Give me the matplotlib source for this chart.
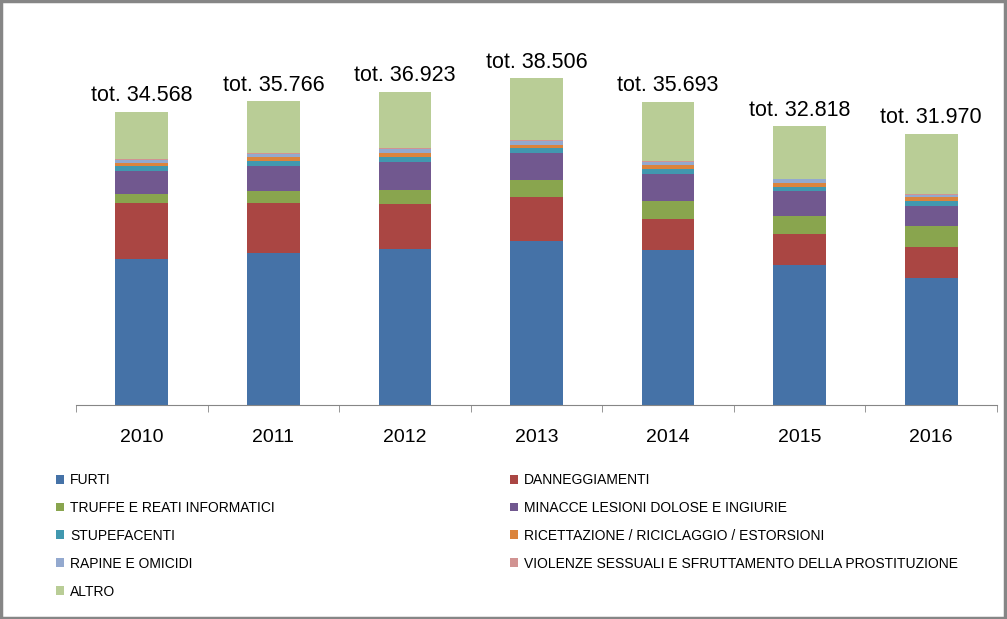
import matplotlib.pyplot as plt
from matplotlib.patches import Patch, Rectangle
import numpy as np

years = ["2010", "2011", "2012", "2013", "2014", "2015", "2016"]
totals = [34568, 35766, 36923, 38506, 35693, 32818, 31970]

categories = [
    "FURTI",
    "DANNEGGIAMENTI",
    "TRUFFE E REATI INFORMATICI",
    "MINACCE LESIONI DOLOSE E INGIURIE",
    "STUPEFACENTI",
    "RICETTAZIONE / RICICLAGGIO / ESTORSIONI",
    "RAPINE E OMICIDI",
    "VIOLENZE SESSUALI E SFRUTTAMENTO DELLA PROSTITUZIONE",
    "ALTRO",
]

furti = [17160, 17940, 18380, 19320, 18260, 16490, 15000]
danneggiamenti = [6600, 5890, 5300, 5220, 3650, 3650, 3650]
truffe = [1100, 1380, 1650, 1970, 2120, 2120, 2440]
minacce = [2710, 2945, 3335, 3215, 3180, 2980, 2360]
stupefacenti = [590, 625, 590, 520, 550, 470, 625]
ricettazione = [390, 470, 400, 425, 510, 470, 470]
rapine = [320, 355, 470, 400, 390, 400, 200]
violenze = [80, 120, 120, 150, 80, 80, 60]
altro = [5610, 6040, 6680, 7270, 6950, 6160, 7165]

series = [furti, danneggiamenti, truffe, minacce, stupefacenti,
          ricettazione, rapine, violenze, altro]

colors = ["#4572A7", "#AA4643", "#89A54E", "#71588F", "#4198AF",
          "#DB843D", "#93A9CF", "#D19392", "#B9CD96"]

plt.rcParams['font.family'] = ['Liberation Sans', 'DejaVu Sans']

fig = plt.figure(figsize=(10.07, 6.19), dpi=100)
ax = fig.add_axes([76 / 1007, (619 - 405) / 619, (997 - 76) / 1007, 382 / 619])

x = np.arange(len(years))
bottom = np.zeros(len(years))
for vals, col, name in zip(series, colors, categories):
    ax.bar(x, vals, 0.40, bottom=bottom, color=col, label=name, linewidth=0)
    bottom += np.array(vals)

for xi, t in zip(x, totals):
    s = "tot. " + "{:,}".format(t).replace(",", ".")
    ax.annotate(s, (xi, bottom[xi]), xytext=(0, 4), textcoords="offset points",
                ha="center", va="bottom", fontsize=15.5)

ax.set_xlim(-0.5, len(years) - 0.5)
ax.set_ylim(0, 45000)
ax.set_yticks([])
for side in ["top", "right", "left"]:
    ax.spines[side].set_visible(False)
ax.spines["bottom"].set_color("#868686")
ax.set_xticks(x)
ax.set_xticklabels(years, fontsize=14)
ax.set_xticks(np.arange(-0.5, len(years)), minor=True)
ax.tick_params(axis="x", which="major", length=0, pad=17)
ax.tick_params(axis="x", which="minor", length=5, color="#868686")

handles = [Patch(facecolor=c, edgecolor="none") for c in colors]
left_idx = [0, 2, 4, 6, 8]
right_idx = [1, 3, 5, 7]
common = dict(frameon=False, fontsize=10, handlelength=0.6, handleheight=0.6,
              handletextpad=0.4, labelspacing=1.0, borderaxespad=0, borderpad=0)
leg1 = fig.legend([handles[i] for i in left_idx], [categories[i] for i in left_idx],
                  loc="upper left", bbox_to_anchor=(56 / 1007, 1 - 473 / 619), **common)
leg2 = fig.legend([handles[i] for i in right_idx], [categories[i] for i in right_idx],
                  loc="upper left", bbox_to_anchor=(510 / 1007, 1 - 473 / 619), **common)

fig.patches.append(Rectangle((0.001, 0.002), 0.997, 0.996, transform=fig.transFigure,
                             fill=False, edgecolor="#868686", linewidth=2.5))

fig.savefig("out.png", dpi=100, facecolor="white")
